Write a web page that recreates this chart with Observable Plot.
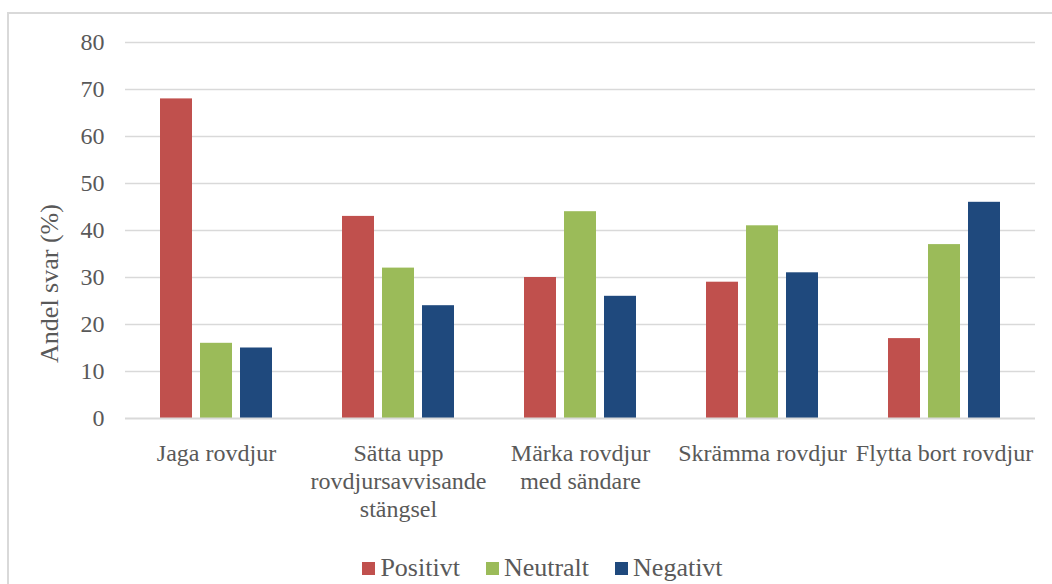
<!DOCTYPE html>
<html><head><meta charset="utf-8">
<script src="https://cdn.jsdelivr.net/npm/d3@7"></script>
<script src="https://cdn.jsdelivr.net/npm/@observablehq/plot@0.6"></script>
<style>
html,body{margin:0;background:#fff;overflow:hidden;}
.box{position:relative;width:1052px;height:584px;overflow:hidden;color:#595959;font-family:'Liberation Serif',serif;}
.fr{position:absolute;left:7px;top:12px;width:1072px;height:620px;border:2px solid #D9D9D9;box-sizing:border-box;}
.ch{position:absolute;left:0;top:0;}
.lg{position:absolute;left:7px;width:1071px;top:552px;height:32px;line-height:32px;display:flex;justify-content:center;align-items:center;font-size:26px;font-family:'Liberation Serif',serif;}
.it{display:flex;align-items:center;margin:0 13px;}
.sq{width:13px;height:13px;margin-right:5px;display:inline-block;}
</style>
</head><body>
<div class="box"><div class="fr"></div><div class="ch"></div><div class="lg"></div></div>
<script>
const categories = ["Jaga rovdjur", "Sätta upp rovdjursavvisande stängsel", "Märka rovdjur med sändare", "Skrämma rovdjur", "Flytta bort rovdjur"];
const categoryLabels = ["Jaga rovdjur", "Sätta upp\nrovdjursavvisande\nstängsel", "Märka rovdjur\nmed sändare", "Skrämma rovdjur", "Flytta bort rovdjur"];
const seriesNames = ["Positivt", "Neutralt", "Negativt"];
const positivt = [68, 43, 30, 29, 17];
const neutralt = [16, 32, 44, 41, 37];
const negativt = [15, 24, 26, 31, 46];
const colors = ["#C0504D", "#9BBB59", "#1F497D"];
const yTicks = [0, 10, 20, 30, 40, 50, 60, 70, 80];
const yLabel = "Andel svar (%)";

const seriesValues = [positivt, neutralt, negativt];
const data = [];
categories.forEach((c, i) => seriesNames.forEach((s, j) => data.push({category: c, series: s, value: seriesValues[j][i]})));
const labelOf = new Map(categories.map((c, i) => [c, categoryLabels[i]]));

const chart = Plot.plot({
  width: 1052,
  height: 545,
  marginLeft: 123,
  marginRight: 16,
  marginTop: 42,
  marginBottom: 127,
  style: {fontFamily: "Liberation Serif", fontSize: "24px", color: "#595959", background: "transparent"},
  fx: {domain: categories, padding: 0},
  x: {domain: seriesNames, paddingInner: 0.2, paddingOuter: 0.86, axis: null},
  y: {domain: [0, 80]},
  color: {domain: seriesNames, range: colors},
  marks: [
    Plot.gridY(yTicks.filter(d => d > 0), {stroke: "#D9D9D9", strokeOpacity: 1, strokeWidth: 1.5}),
    Plot.barY(data, {fx: "category", x: "series", y: "value", fill: "series"}),
    Plot.ruleY([0], {stroke: "#D9D9D9", strokeWidth: 2}),
    Plot.axisY({ticks: yTicks, tickSize: 0, tickPadding: 21, label: null, fontSize: 24}),
    Plot.axisFx({anchor: "bottom", tickSize: 0, tickPadding: 22, tickFormat: d => labelOf.get(d), lineHeight: 1.18, fontSize: 24, label: null}),
    Plot.text([yLabel], {facet: "super", frameAnchor: "left", text: d => d, rotate: -90, dx: -75.5, dy: 53, fontSize: 26, lineAnchor: "middle", textAnchor: "middle", fill: "#595959"})
  ]
});
document.querySelector(".ch").appendChild(chart);

const legend = document.querySelector(".lg");
seriesNames.forEach((s, i) => {
  const item = document.createElement("div");
  item.className = "it";
  const sw = document.createElement("span");
  sw.className = "sq";
  sw.style.background = colors[i];
  const t = document.createElement("span");
  t.textContent = s;
  item.appendChild(sw);
  item.appendChild(t);
  legend.appendChild(item);
});
</script>
</body></html>
